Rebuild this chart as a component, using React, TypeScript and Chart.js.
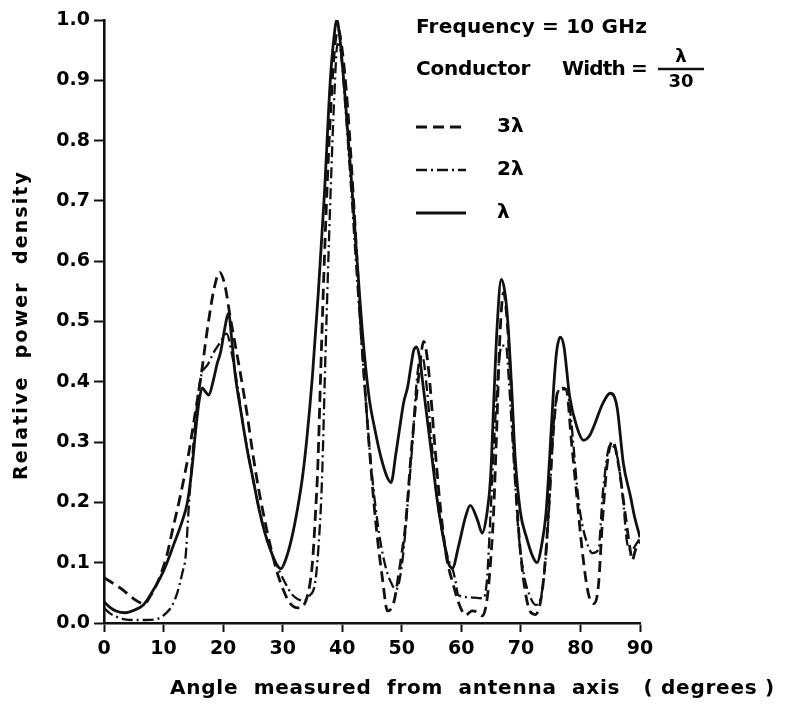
import React, { useEffect, useRef } from "react";
import { Chart, registerables } from "chart.js";

Chart.register(...registerables);

// ---- data ----
const angle3 = [0, 1.5, 3, 4, 5, 6, 6.8, 7.8, 8.8, 9.5, 10.5, 11.5, 12.8, 14.2, 15.5, 16.2, 17.5, 18.5, 19.4, 20.3, 21.2, 22.9, 24, 25, 26, 27, 28, 29.1, 30.1, 31.2, 32.6, 34.1, 35, 35.5, 35.9, 36.4, 37.1, 37.9, 38.7, 39.3, 40, 40.9, 42, 43.2, 44.4, 45.6, 46.8, 47.6, 48.3, 48.8, 49.4, 50, 50.6, 51.7, 52.8, 53.7, 54.5, 55.5, 56.5, 57.5, 58.6, 59.8, 60.7, 61.8, 62.7, 63.5, 64.3, 64.9, 65.4, 65.9, 66.5, 67.1, 67.7, 68.2, 68.8, 69.6, 70.4, 71.5, 72.4, 73.5, 74.3, 75.1, 76, 76.6, 77.6, 78.5, 79.4, 80.3, 81.3, 82.2, 83, 83.7, 84.5, 85.4, 86.4, 87.5, 88.3, 88.7, 89.2, 90];
const power3 = [0.075, 0.066, 0.056, 0.048, 0.04, 0.034, 0.032, 0.045, 0.063, 0.08, 0.11, 0.154, 0.21, 0.28, 0.36, 0.403, 0.497, 0.555, 0.582, 0.56, 0.507, 0.414, 0.348, 0.28, 0.22, 0.17, 0.125, 0.083, 0.055, 0.033, 0.025, 0.043, 0.1, 0.18, 0.26, 0.42, 0.63, 0.82, 0.95, 0.985, 0.95, 0.856, 0.685, 0.48, 0.31, 0.17, 0.07, 0.02, 0.025, 0.04, 0.075, 0.115, 0.16, 0.296, 0.406, 0.467, 0.42, 0.3, 0.19, 0.11, 0.065, 0.027, 0.013, 0.02, 0.018, 0.012, 0.038, 0.1, 0.18, 0.31, 0.48, 0.548, 0.5, 0.42, 0.296, 0.157, 0.075, 0.02, 0.014, 0.047, 0.13, 0.268, 0.375, 0.388, 0.388, 0.3, 0.21, 0.12, 0.05, 0.032, 0.06, 0.17, 0.265, 0.302, 0.262, 0.182, 0.125, 0.104, 0.12, 0.135];

const angle2 = [0, 1, 2.2, 3.5, 5, 7, 9, 10.6, 11.5, 12.3, 13.2, 13.7, 14.2, 14.8, 15.5, 16.2, 17.5, 18.5, 19.5, 20.6, 21.4, 22.3, 23.5, 25, 26.5, 28, 29.5, 30.5, 31.5, 32.5, 33.5, 34.5, 35.5, 36.2, 36.6, 37.2, 38, 38.7, 39.2, 39.7, 40.5, 41.5, 42.5, 43.5, 44.5, 45.5, 46.5, 47.5, 48.3, 49, 49.6, 50.3, 51, 51.8, 52.5, 53, 53.5, 54.2, 55, 56, 57, 58, 58.5, 59, 59.5, 61, 63.7, 64.3, 64.9, 65.5, 66.2, 66.8, 67.5, 68, 68.8, 69.6, 70.5, 71.5, 72.5, 73.3, 74, 74.8, 75.5, 76.3, 77, 77.8, 78.5, 79.4, 80, 81.1, 82, 83, 83.8, 85, 86.2, 87.2, 87.8, 88.6, 89.3, 90];
const power2 = [0.025, 0.016, 0.01, 0.006, 0.005, 0.005, 0.007, 0.018, 0.03, 0.05, 0.085, 0.11, 0.187, 0.27, 0.35, 0.405, 0.43, 0.45, 0.465, 0.48, 0.45, 0.4, 0.32, 0.24, 0.17, 0.12, 0.085, 0.065, 0.048, 0.04, 0.037, 0.045, 0.07, 0.154, 0.237, 0.45, 0.7, 0.88, 0.96, 0.95, 0.86, 0.72, 0.57, 0.43, 0.3, 0.2, 0.13, 0.085, 0.065, 0.055, 0.07, 0.12, 0.2, 0.3, 0.4, 0.436, 0.44, 0.39, 0.3, 0.2, 0.14, 0.1, 0.09, 0.071, 0.046, 0.043, 0.041, 0.071, 0.18, 0.3, 0.42, 0.46, 0.46, 0.4, 0.27, 0.15, 0.08, 0.045, 0.03, 0.04, 0.09, 0.2, 0.33, 0.385, 0.39, 0.385, 0.33, 0.23, 0.18, 0.133, 0.116, 0.121, 0.22, 0.295, 0.275, 0.2, 0.135, 0.12, 0.13, 0.14];

const angle1 = [0, 1, 2, 3.6, 5, 6.6, 8, 9.5, 10.5, 11.7, 13, 14, 14.7, 15.4, 16, 16.5, 17, 17.6, 18.3, 19, 19.6, 20.3, 20.9, 21.5, 22, 23, 24, 25, 26, 27, 28, 29, 29.7, 30.5, 31.5, 32.5, 33.3, 34, 35, 36, 37, 38, 38.6, 39.1, 39.6, 40.5, 41.5, 42.5, 43.5, 44.5, 45.5, 46.5, 47.5, 48.2, 49, 49.6, 50.3, 51, 51.6, 52, 52.5, 53, 53.5, 54, 55, 56, 57, 57.8, 58.5, 59.5, 60.7, 61.5, 62.7, 63.5, 64.3, 64.9, 65.5, 66, 66.7, 67.3, 67.8, 68.5, 69, 69.9, 71, 72, 72.7, 73.5, 74.2, 74.8, 75.5, 76, 76.6, 77.2, 78.2, 79.4, 80.5, 81.5, 82.2, 83.8, 85, 85.7, 86.2, 87.2, 88.4, 89, 90];
const power1 = [0.035, 0.026, 0.02, 0.017, 0.021, 0.03, 0.05, 0.076, 0.098, 0.13, 0.165, 0.2, 0.25, 0.32, 0.37, 0.39, 0.384, 0.378, 0.4, 0.43, 0.45, 0.49, 0.514, 0.465, 0.414, 0.35, 0.29, 0.24, 0.19, 0.15, 0.12, 0.097, 0.09, 0.105, 0.14, 0.19, 0.24, 0.3, 0.41, 0.55, 0.71, 0.9, 0.97, 1.0, 0.97, 0.87, 0.74, 0.6, 0.47, 0.375, 0.32, 0.275, 0.243, 0.233, 0.28, 0.32, 0.365, 0.392, 0.43, 0.452, 0.458, 0.44, 0.4, 0.36, 0.28, 0.2, 0.14, 0.1, 0.091, 0.126, 0.176, 0.195, 0.171, 0.149, 0.182, 0.24, 0.38, 0.49, 0.57, 0.55, 0.5, 0.38, 0.28, 0.185, 0.14, 0.11, 0.1, 0.13, 0.18, 0.27, 0.39, 0.45, 0.474, 0.46, 0.375, 0.325, 0.303, 0.31, 0.325, 0.365, 0.381, 0.375, 0.355, 0.265, 0.21, 0.18, 0.142];

const seriesLabels = ["3λ", "2λ", "λ"];
const xTickValues = [0, 10, 20, 30, 40, 50, 60, 70, 80, 90];
const yTickValues = [0, 0.1, 0.2, 0.3, 0.4, 0.5, 0.6, 0.7, 0.8, 0.9, 1.0];

const xTitle = "Angle  measured  from  antenna  axis   ( degrees )";
const yTitle = "Relative  power  density";
const freqText = "Frequency = 10 GHz";
const condText = "Conductor";
const widthText = "Width =";
const fracTop = "λ";
const fracBottom = "30";

const FONT = '"DejaVu Sans", "Liberation Sans", sans-serif';
const INK = "#111";

const toPoints = (xs: number[], ys: number[]) => xs.map((x, i) => ({ x, y: ys[i] }));

function fitText(ctx: CanvasRenderingContext2D, text: string, x: number, y: number, width: number, size: number) {
  ctx.font = `bold ${size}px ${FONT}`;
  (ctx as any).letterSpacing = "0px";
  const m = ctx.measureText(text).width;
  const n = Array.from(text).length;
  const ls = n > 1 ? (width - m) / n : 0;
  (ctx as any).letterSpacing = `${ls}px`;
  ctx.textAlign = "left";
  ctx.textBaseline = "middle";
  ctx.fillText(text, x, y);
  (ctx as any).letterSpacing = "0px";
}

const annotate = {
  id: "annotate",
  afterDraw(chart: any) {
    const ctx: CanvasRenderingContext2D = chart.ctx;
    ctx.save();
    ctx.fillStyle = "#000";
    ctx.strokeStyle = INK;

    // axis titles
    fitText(ctx, xTitle, 170, 689, 605, 20);
    ctx.save();
    ctx.translate(22, 325);
    ctx.rotate(-Math.PI / 2);
    fitText(ctx, yTitle, -155, 0, 310, 19);
    ctx.restore();

    // header notes
    fitText(ctx, freqText, 416, 28, 231, 20);
    fitText(ctx, condText, 416, 70, 114, 20);
    fitText(ctx, widthText, 562, 70, 85, 20);
    ctx.font = `bold 18px ${FONT}`;
    ctx.textAlign = "center";
    ctx.textBaseline = "middle";
    ctx.fillText(fracTop, 681, 57);
    ctx.fillText(fracBottom, 681, 82);
    ctx.lineWidth = 2.5;
    ctx.setLineDash([]);
    ctx.beginPath();
    ctx.moveTo(658, 69);
    ctx.lineTo(704, 69);
    ctx.stroke();

    // legend
    const rows = [127, 170, 213];
    chart.data.datasets.forEach((ds: any, i: number) => {
      const y = rows[i];
      ctx.lineWidth = ds.borderWidth;
      ctx.setLineDash(ds.borderDash || []);
      ctx.beginPath();
      ctx.moveTo(416, y);
      ctx.lineTo(466, y);
      ctx.stroke();
      ctx.setLineDash([]);
      ctx.font = `bold 20px ${FONT}`;
      ctx.textAlign = "left";
      ctx.textBaseline = "middle";
      ctx.fillText(ds.label, 497, y);
    });
    ctx.restore();
  },
};

export default function App() {
  const ref = useRef<HTMLCanvasElement | null>(null);

  useEffect(() => {
    if (!ref.current) return;
    const tickFont = { family: FONT, size: 19, weight: "bold" as const };
    const chart = new Chart(ref.current, {
      type: "line",
      data: {
        datasets: [
          {
            label: seriesLabels[0],
            data: toPoints(angle3, power3),
            borderColor: INK,
            borderWidth: 2.8,
            borderDash: [11, 6],
            pointRadius: 0,
            cubicInterpolationMode: "monotone",
            fill: false,
          },
          {
            label: seriesLabels[1],
            data: toPoints(angle2, power2),
            borderColor: INK,
            borderWidth: 2.3,
            borderDash: [11, 4, 2, 4],
            pointRadius: 0,
            cubicInterpolationMode: "monotone",
            fill: false,
          },
          {
            label: seriesLabels[2],
            data: toPoints(angle1, power1),
            borderColor: INK,
            borderWidth: 2.8,
            pointRadius: 0,
            cubicInterpolationMode: "monotone",
            fill: false,
          },
        ],
      },
      options: {
        responsive: false,
        animation: false,
        events: [],
        layout: { padding: { left: 0, top: 20, right: 153, bottom: 0 } },
        plugins: { legend: { display: false }, tooltip: { enabled: false }, title: { display: false } },
        scales: {
          x: {
            type: "linear",
            min: 0,
            max: 90,
            afterBuildTicks: (s: any) => {
              s.ticks = xTickValues.map((v) => ({ value: v }));
            },
            afterFit: (s: any) => {
              s.height = 81;
            },
            ticks: {
              color: "#000",
              font: tickFont,
              padding: 6,
              maxRotation: 0,
              autoSkip: false,
              callback: (v: any) => String(v),
            },
            grid: { drawOnChartArea: false, drawTicks: true, tickLength: 9, tickWidth: 2, tickColor: INK },
            border: { display: true, color: INK, width: 2.6 },
          },
          y: {
            type: "linear",
            min: 0,
            max: 1,
            afterBuildTicks: (s: any) => {
              s.ticks = yTickValues.map((v) => ({ value: v }));
            },
            afterFit: (s: any) => {
              s.width = 104;
            },
            ticks: {
              color: "#000",
              font: tickFont,
              padding: 4,
              autoSkip: false,
              callback: (v: any) => Number(v).toFixed(1),
            },
            grid: { drawOnChartArea: false, drawTicks: true, tickLength: 10, tickWidth: 2, tickColor: INK },
            border: { display: true, color: INK, width: 2.6 },
          },
        },
      },
      plugins: [annotate],
    });
    return () => chart.destroy();
  }, []);

  return (
    <div style={{ position: "fixed", left: 0, top: 0, width: 793, height: 704, background: "#fff" }}>
      <canvas ref={ref} width={793} height={704} style={{ display: "block", width: 793, height: 704 }} />
    </div>
  );
}
